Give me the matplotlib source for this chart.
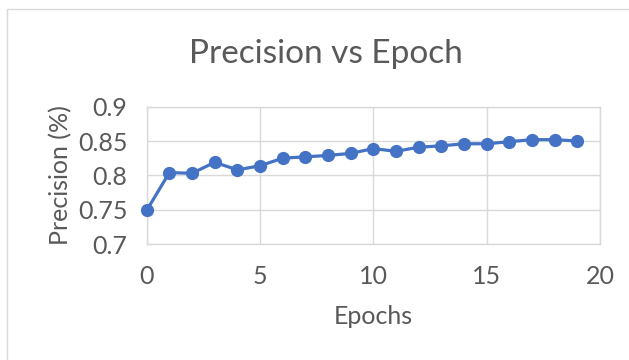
import matplotlib
matplotlib.use('Agg')
import matplotlib.pyplot as plt
from matplotlib.patches import Rectangle

epochs = list(range(20))
precision = [0.749, 0.804, 0.803, 0.819, 0.808, 0.814, 0.825, 0.827, 0.829, 0.832,
             0.839, 0.835, 0.841, 0.843, 0.846, 0.846, 0.849, 0.852, 0.852, 0.850]
y_ticks = [0.7, 0.75, 0.8, 0.85, 0.9]
y_tick_labels = ['0.7', '0.75', '0.8', '0.85', '0.9']
x_ticks = [0, 5, 10, 15, 20]

text_color = '#595959'
grid_color = '#d9d9d9'
line_color = '#4472c4'

plt.rcParams['font.family'] = ['Lato', 'DejaVu Sans']

fig = plt.figure(figsize=(6.29, 3.6), dpi=100)
# thin chart-area border, open on the right and bottom
fig.patches.append(Rectangle((7 / 629, -0.1), 1.2, 1 - 9 / 360 + 0.1,
                             transform=fig.transFigure, fill=False,
                             edgecolor=grid_color, linewidth=1))

ax = fig.add_axes([146.7 / 629, 1 - 244 / 360, (600 - 146.7) / 629, (244 - 106.7) / 360])
ax.plot(epochs, precision, color=line_color, linewidth=2.3,
        marker='o', markersize=8.5, zorder=3, clip_on=False)

ax.set_xlim(0, 20)
ax.set_ylim(0.7, 0.9)
ax.set_xticks(x_ticks)
ax.set_yticks(y_ticks)
ax.set_yticklabels(y_tick_labels)
ax.grid(True, color=grid_color, linewidth=1)
ax.set_axisbelow(True)
for s in ax.spines.values():
    s.set_color(grid_color)
    s.set_linewidth(1)
ax.tick_params(length=0, labelsize=18, labelcolor=text_color)
ax.tick_params(axis='y', pad=14)
ax.tick_params(axis='x', pad=15)

ax.set_xlabel('Epochs', fontsize=18, color=text_color, labelpad=12)
ax.set_ylabel('Precision (%)', fontsize=18, color=text_color, labelpad=4)
fig.text(326 / 629, 1 - 54 / 360, 'Precision vs Epoch', fontsize=24,
         color=text_color, ha='center', va='center')

fig.savefig('out.png', dpi=100)
